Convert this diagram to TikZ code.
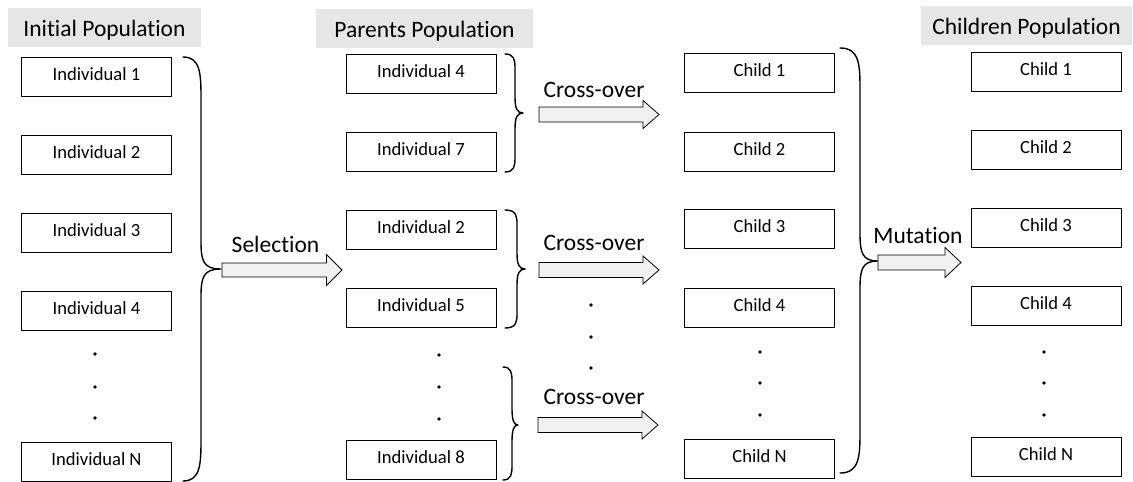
\documentclass[tikz,border=0pt]{standalone}
\usepackage{fontspec}
\setmainfont{Carlito}[Ligatures=NoCommon]

% curly brace: top end (xt,yt), bottom end (xt,yb), spine at x=xv, tip at (xtip,ym)
\newcommand\curlybrace[8]{%
  \draw[bracestyle] (#1,#2) .. controls (#4-1,#2) and (#4,#2+#7*0.4) .. (#4,#2+#7)
    -- (#4,#6-#8) .. controls (#4,#6-#8*0.3) and (#4+2,#6) .. (#5,#6)
    .. controls (#4+2,#6) and (#4,#6+#8*0.3) .. (#4,#6+#8)
    -- (#4,#3-#7) .. controls (#4,#3-#7*0.4) and (#4-1,#3) .. (#1,#3);}

% block arrow from x=#1 to x=#2 centred on y=#3; shaft half-height #4, head half-height #5, head length #6
\newcommand\blockarrow[6]{%
  \draw[barrow] (#1,#3-#4) -- (#2-#6,#3-#4) -- (#2-#6,#3-#5) -- (#2,#3)
    -- (#2-#6,#3+#5) -- (#2-#6,#3+#4) -- (#1,#3+#4) -- cycle;}

\begin{document}
\begin{tikzpicture}[x=1pt,y=-1pt,
  item/.style={draw, line width=0.9pt, minimum width=150pt, minimum height=39pt,
    inner sep=0pt, font=\fontsize{18.6}{22}\selectfont, text height=13pt, text depth=6pt},
  head/.style={fill=headgray, minimum height=39pt, inner sep=0pt,
    font=\fontsize{23.5}{28}\selectfont, text height=22pt, text depth=3.6pt},
  oplabel/.style={anchor=base, inner sep=0pt, font=\fontsize{23.5}{28}\selectfont},
  dotmark/.style={circle, fill=black, inner sep=0pt, minimum size=3.8pt},
  bracestyle/.style={line width=1.4pt, line cap=round, line join=round},
  barrow/.style={fill=arrowgray, draw=black, line width=0.8pt, line join=miter},
]
\definecolor{headgray}{HTML}{E7E6E6}
\definecolor{arrowgray}{HTML}{F0F0F0}
\useasboundingbox (0,0) rectangle (1133,482);

% column headings
\node[head, minimum width=193pt] (hinit) at (104.5,27.5) {Initial Population};
\node[head, minimum width=217pt] (hpar)  at (424.5,28.5) {Parents Population};
\node[head, minimum width=211pt] (hchi)  at (1026.5,25.2) {Children Population};

% initial population
\node[item] (i1) at (96.5,76.5)  {Individual 1};
\node[item] (i2) at (96.5,154.5) {Individual 2};
\node[item] (i3) at (96.5,232.5) {Individual 3};
\node[item] (i4) at (96.5,310.5) {Individual 4};
\node[item] (iN) at (96.5,462)   {Individual N};
\node[dotmark] (id1) at (95,354) {};
\node[dotmark] (id2) at (95,387) {};
\node[dotmark] (id3) at (95,418) {};

% parents population
\node[item] (p4) at (421,73.5)  {Individual 4};
\node[item] (p7) at (421,152)   {Individual 7};
\node[item] (p2) at (421,229.5) {Individual 2};
\node[item] (p5) at (421,308)   {Individual 5};
\node[item] (p8) at (421,459.5) {Individual 8};
\node[dotmark] (pd1) at (439,355) {};
\node[dotmark] (pd2) at (439,387) {};
\node[dotmark] (pd3) at (439,419) {};

% offspring after cross-over
\node[item] (c1) at (759.5,72.5)  {Child 1};
\node[item] (c2) at (759.5,151.5) {Child 2};
\node[item] (c3) at (759.5,229)   {Child 3};
\node[item] (c4) at (759.5,307.5) {Child 4};
\node[item] (cN) at (759.5,458.5) {Child N};
\node[dotmark] (cd1) at (760,352) {};
\node[dotmark] (cd2) at (760,383) {};
\node[dotmark] (cd3) at (760,415) {};

% children population
\node[item] (m1) at (1046,71.5)  {Child 1};
\node[item] (m2) at (1046,149.5) {Child 2};
\node[item] (m3) at (1046,227.5) {Child 3};
\node[item] (m4) at (1046,306)   {Child 4};
\node[item] (mN) at (1046,457)   {Child N};
\node[dotmark] (md1) at (1044,352) {};
\node[dotmark] (md2) at (1044,383) {};
\node[dotmark] (md3) at (1044,415) {};

% dots between the cross-over steps
\node[dotmark] (xd1) at (591,305) {};
\node[dotmark] (xd2) at (591,337) {};
\node[dotmark] (xd3) at (591,368) {};

% braces
\curlybrace{183}{57}{481}{201}{221}{269}{40}{28}
\curlybrace{505}{54}{172}{515}{523}{113}{14}{16}
\curlybrace{505}{210}{328}{517}{525}{269}{14}{16}
\curlybrace{503}{367}{480}{512}{518}{425}{14}{16}
\curlybrace{840}{48}{473}{860}{878}{261}{40}{28}

% operation arrows
\blockarrow{222}{342}{270}{7}{15.5}{15.5}
\blockarrow{539}{659}{114.5}{7.5}{14}{16}
\blockarrow{539}{659}{270}{7.5}{14}{16}
\blockarrow{538}{658}{425}{7.5}{14}{16}
\blockarrow{878}{961}{262.5}{7.5}{15}{16}

% operation labels
\node[oplabel] (lsel) at (275.5,252) {Selection};
\node[oplabel] (lx1)  at (594,97)    {Cross-over};
\node[oplabel] (lx2)  at (594,250)   {Cross-over};
\node[oplabel] (lx3)  at (594,404)   {Cross-over};
\node[oplabel] (lmut) at (918,243)   {Mutation};
\end{tikzpicture}
\end{document}
